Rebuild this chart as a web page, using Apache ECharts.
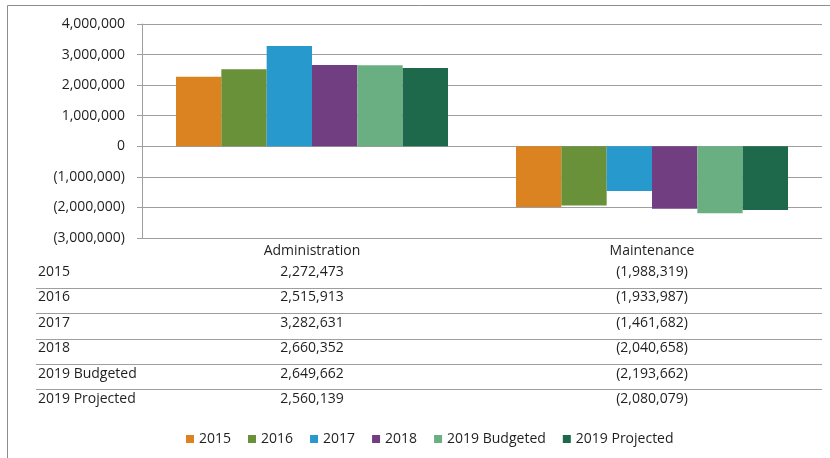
<!DOCTYPE html>
<html>
<head>
<meta charset="utf-8">
<script src="https://cdn.jsdelivr.net/npm/echarts@6/dist/echarts.min.js"></script>
<style>
  html, body { margin: 0; padding: 0; background: #fff; }
  #chart { width: 830px; height: 458px; }
</style>
</head>
<body>
<div id="chart"></div>
<script>
const categories = ['Administration', 'Maintenance']
const seriesNames = ['2015', '2016', '2017', '2018', '2019 Budgeted', '2019 Projected']
const adminValues = [2272473, 2515913, 3282631, 2660352, 2649662, 2560139]
const maintValues = [-1988319, -1933987, -1461682, -2040658, -2193662, -2080079]
const colors = ['#da8320', '#69913a', '#2799cc', '#723e82', '#6aaf82', '#1e684c']

const font = 'Open Sans'
const fontSize = 14
const textColor = '#1f1f1f'
const lineColor = '#9e9e9e'

function fmt(v) {
  const s = Math.abs(v).toLocaleString('en-US')
  return v < 0 ? '(' + s + ')' : s
}

const chart = echarts.init(document.getElementById('chart'))

const option = {
  animation: false,
  textStyle: { fontFamily: font },
  color: colors,
  grid: { left: 142, right: 8, top: 24, bottom: 220 },
  legend: {
    top: 427,
    left: 181,
    itemWidth: 8,
    itemHeight: 8,
    itemGap: 17,
    icon: 'rect',
    textStyle: { color: textColor, fontSize: fontSize, fontFamily: font }
  },
  xAxis: {
    type: 'category',
    data: categories,
    axisLine: { onZero: false, show: false },
    axisTick: { show: false },
    axisLabel: { color: textColor, fontSize: fontSize, margin: 6 }
  },
  yAxis: {
    type: 'value',
    min: -3000000,
    max: 4000000,
    interval: 1000000,
    axisLine: { show: true, lineStyle: { color: lineColor, width: 1 } },
    axisTick: { show: true, length: 5, lineStyle: { color: lineColor } },
    axisLabel: { color: textColor, fontSize: fontSize, margin: 17, formatter: v => fmt(v) },
    splitLine: { lineStyle: { color: lineColor, width: 1 } }
  },
  series: seriesNames.map((name, i) => ({
    name: name,
    type: 'bar',
    barGap: '0%',
    barCategoryGap: '20%',
    data: [adminValues[i], maintValues[i]]
  }))
}
chart.setOption(option)

// data table under the plot, placed on the category axis
const rowY0 = 272
const rowH = 25.4
const cssFont = fontSize + 'px "' + font + '"'
const graphics = [{
  type: 'rect',
  shape: { x: 7.5, y: 5.5, width: 900, height: 600 },
  style: { fill: 'none', stroke: '#8c8c8c', lineWidth: 1 },
  silent: true
}]
const cx = categories.map(c => chart.convertToPixel({ xAxisIndex: 0 }, c))
seriesNames.forEach((name, i) => {
  const y = rowY0 + i * rowH
  graphics.push({
    type: 'text', x: 38, y: y,
    style: { text: name, fill: textColor, font: cssFont, align: 'left', verticalAlign: 'middle' }
  })
  ;[adminValues[i], maintValues[i]].forEach((v, j) => {
    graphics.push({
      type: 'text', x: cx[j], y: y,
      style: { text: fmt(v), fill: textColor, font: cssFont, align: 'center', verticalAlign: 'middle' }
    })
  })
  if (i < seriesNames.length - 1) {
    const ly = Math.round(y + rowH / 2 + 3) + 0.5
    graphics.push({
      type: 'line',
      shape: { x1: 36, y1: ly, x2: 822, y2: ly },
      style: { stroke: lineColor, lineWidth: 1 }
    })
  }
})
chart.setOption({ graphic: graphics })
</script>
</body>
</html>
